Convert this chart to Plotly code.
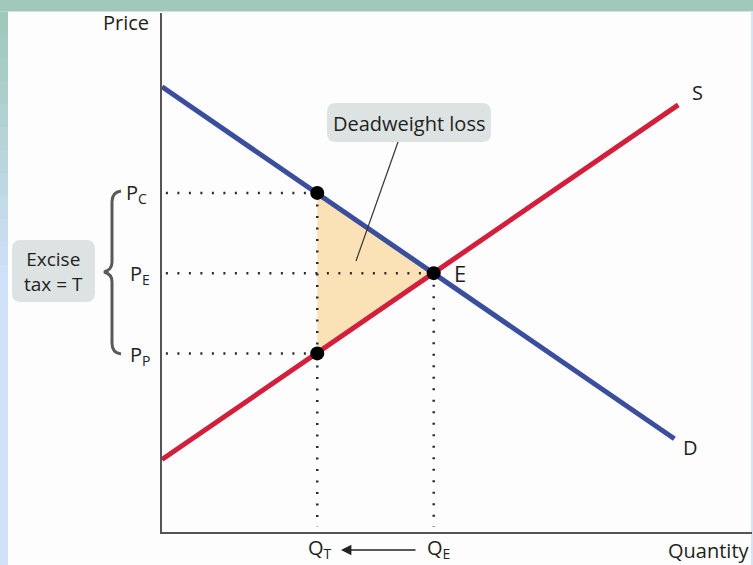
import plotly.graph_objects as go

# demand and supply curves (quantity, price)
demand_q = [0, 13.2]
demand_p = [17.2, 3.6]
supply_q = [0, 13.3]
supply_p = [2.8, 16.5]

# equilibrium and taxed outcome
q_e, p_e = 7, 10
q_t = 4
p_c, p_p = 13.1, 6.9

W, H = 753, 565
L, R, T, B = 162, 1, 13, 33
PW, PH = W - L - R, H - T - B
FONT = "Open Sans"
TXT = "#231f20"


def fx(x):
    # pixel column -> paper x
    return (x - L) / PW


def fy(y):
    # pixel row -> paper y
    return (H - B - y) / PH


def rounded_box(x0, y0, x1, y1, r):
    rx, ry = r / PW, r / PH
    a, b, c, d = fx(x0), fy(y1), fx(x1), fy(y0)
    return (f"M{a + rx},{b} L{c - rx},{b} Q{c},{b} {c},{b + ry} "
            f"L{c},{d - ry} Q{c},{d} {c - rx},{d} L{a + rx},{d} "
            f"Q{a},{d} {a},{d - ry} L{a},{b + ry} Q{a},{b} {a + rx},{b} Z")


fig = go.Figure()

# deadweight loss triangle
fig.add_trace(go.Scatter(
    x=[q_t, q_e, q_t, q_t], y=[p_c, p_e, p_p, p_c],
    fill="toself", fillcolor="#fbe2b6", mode="none", hoverinfo="skip"))

# dotted guides
dot = dict(color="#2a2a2a", width=2.5, dash="2px,9.5px")
for p, q in [(p_c, q_t), (p_e, q_e), (p_p, q_t)]:
    fig.add_trace(go.Scatter(x=[0.1, q], y=[p, p], mode="lines", line=dot, hoverinfo="skip"))
fig.add_trace(go.Scatter(x=[q_t, q_t], y=[p_c, 0.2], mode="lines", line=dot, hoverinfo="skip"))
fig.add_trace(go.Scatter(x=[q_e, q_e], y=[p_e, 0.2], mode="lines", line=dot, hoverinfo="skip"))

fig.add_trace(go.Scatter(x=demand_q, y=demand_p, mode="lines",
                         line=dict(color="#3b4e9e", width=5)))
fig.add_trace(go.Scatter(x=supply_q, y=supply_p, mode="lines",
                         line=dict(color="#d11f3c", width=5)))

fig.add_trace(go.Scatter(x=[q_t, q_e, q_t], y=[p_c, p_e, p_p], mode="markers",
                         marker=dict(color="black", size=14)))

shapes = []
# frame: teal top band, left band fading to light blue, thin right band
shapes.append(dict(type="rect", xref="paper", yref="paper", x0=fx(0), x1=fx(W),
                   y0=fy(11.5), y1=fy(0), fillcolor="#a0c9bc", line_width=0, layer="below"))
top_c, bot_c = (160, 201, 188), (208, 224, 248)
n = 24
step = (H - 11.5) / n
for i in range(n):
    t = min(1.0, i / (n * 0.45))
    col = tuple(int(top_c[k] + (bot_c[k] - top_c[k]) * t) for k in range(3))
    y0 = 11.5 + i * step
    shapes.append(dict(type="rect", xref="paper", yref="paper", x0=fx(0), x1=fx(8),
                       y0=fy(y0 + step + 1), y1=fy(y0), fillcolor="rgb(%d,%d,%d)" % col,
                       line_width=0, layer="below"))
shapes.append(dict(type="rect", xref="paper", yref="paper", x0=fx(751), x1=fx(W),
                   y0=fy(H), y1=fy(11.5), fillcolor="#d6e3f6", line_width=0, layer="below"))

# callout boxes
shapes.append(dict(type="path", xref="paper", yref="paper",
                   path=rounded_box(12, 240, 95, 302, 9), fillcolor="#dde3e3", line_width=0))
shapes.append(dict(type="path", xref="paper", yref="paper",
                   path=rounded_box(327, 103, 491, 142, 9), fillcolor="#dde3e3", line_width=0))
shapes.append(dict(type="line", xref="paper", yref="paper", x0=fx(398), y0=fy(142),
                   x1=fx(356), y1=fy(261), line=dict(color="#333", width=1.2)))

# curly brace
pts = [("M", (121, 191)), ("Q", (112, 192, 112, 202)), ("L", (112, 262)),
       ("Q", (112, 270, 104, 272)), ("Q", (112, 274, 112, 282)), ("L", (112, 343)),
       ("Q", (112, 353, 121, 354))]
path = ""
for cmd, c in pts:
    coords = [f"{fx(c[k])},{fy(c[k + 1])}" for k in range(0, len(c), 2)]
    path += cmd + " ".join(coords) + " "
shapes.append(dict(type="path", xref="paper", yref="paper", path=path,
                   line=dict(color="#5a5a5a", width=3)))

ann = []


def label(text, x, y, xanchor="center", size=20):
    ann.append(dict(text=text, x=fx(x), y=fy(y), xref="paper", yref="paper",
                    showarrow=False, xanchor=xanchor, yanchor="middle",
                    font=dict(family=FONT, size=size, color=TXT)))


label("Price", 151, 22, "right")
label("P<sub>C</sub>", 124, 194, "left")
label("P<sub>E</sub>", 128, 274, "left")
label("P<sub>P</sub>", 128, 355, "left")
label("Excise<br>tax = T", 53, 271, "center", 19)
label("Deadweight loss", 409, 123, "center", 20)
label("S", 697, 93)
label("D", 690, 447)
label("E", 452, 273, "left", 22)
label("Q<sub>T</sub>", 320, 548)
label("Q<sub>E</sub>", 438, 548)
label("Quantity", 752, 550, "right")

ann.append(dict(x=fx(341), y=fy(550), xref="paper", yref="paper", ax=76, ay=0,
                text="", showarrow=True, arrowhead=2,
                arrowsize=1.3, arrowwidth=1.6, arrowcolor="#222"))

fig.update_layout(
    width=W, height=H,
    margin=dict(l=L, r=R, t=T, b=B),
    paper_bgcolor="#fdfdfd", plot_bgcolor="#fdfdfd",
    showlegend=False,
    shapes=shapes, annotations=ann,
    xaxis=dict(range=[0, 15.2], showgrid=False, zeroline=False, showticklabels=False,
               ticks="", showline=True, linecolor="#555", linewidth=1.5),
    yaxis=dict(range=[0, 20.05], showgrid=False, zeroline=False, showticklabels=False,
               ticks="", showline=True, linecolor="#555", linewidth=1.5),
)

# drop the browser's default 8px body margin so the figure sits at the window corner
fig.write_html("out.html", config={"displayModeBar": False},
               post_script="document.body.style.margin = '0';")
